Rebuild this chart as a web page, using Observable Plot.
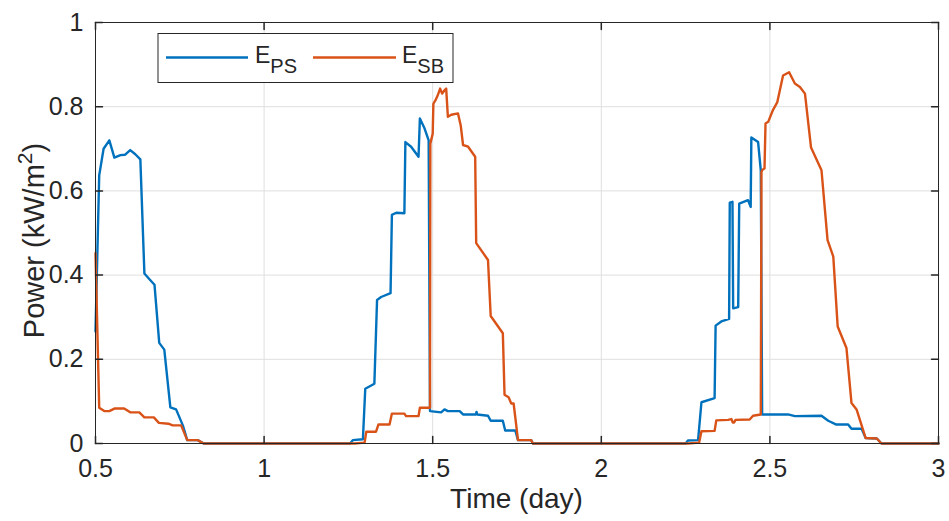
<!DOCTYPE html>
<html>
<head>
<meta charset="utf-8">
<script src="https://cdn.jsdelivr.net/npm/d3@7"></script>
<script src="https://cdn.jsdelivr.net/npm/@observablehq/plot@0.6"></script>
<style>
  html, body { margin: 0; padding: 0; background: #fff; }
  #chart { width: 949px; height: 521px; overflow: hidden; }
</style>
</head>
<body>
<div id="chart"></div>
<script>
// ---- data ----
const xTicks = [0.5, 1, 1.5, 2, 2.5, 3];
const yTicks = [0, 0.2, 0.4, 0.6, 0.8, 1];
const seriesNames = ["E_PS", "E_SB"];

const psTime = [0.5,0.511,0.524,0.541,0.556,0.574,0.588,0.603,0.618,0.633,0.645,0.66,0.675,0.689,0.704,0.722,0.739,0.759,0.772,0.803,0.821,
  1.255,1.263,1.293,1.30,1.327,1.335,1.347,1.375,1.379,1.392,1.416,1.419,1.436,1.458,1.462,1.476,1.488,1.492,1.525,1.535,1.545,1.58,1.59,1.628,1.630,1.632,1.664,1.672,1.708,1.715,1.745,1.753,1.792,1.797,
  2.25,2.257,2.287,2.297,2.336,2.339,2.356,2.379,2.381,2.389,2.391,2.406,2.409,2.435,2.443,2.445,2.465,2.473,2.477,2.554,2.574,2.653,2.673,2.697,2.732,2.742,2.772,2.784,2.817,2.831,3];
const psPower = [0.266,0.637,0.70,0.72,0.679,0.685,0.686,0.697,0.687,0.675,0.404,0.39,0.377,0.239,0.223,0.086,0.081,0.043,0.008,0.008,0,
  0,0.008,0.01,0.13,0.142,0.341,0.348,0.357,0.543,0.548,0.547,0.716,0.705,0.681,0.772,0.748,0.72,0.077,0.074,0.081,0.077,0.077,0.069,0.069,0.075,0.069,0.066,0.054,0.054,0.031,0.031,0.008,0.008,0,
  0,0.007,0.008,0.098,0.108,0.28,0.29,0.296,0.572,0.574,0.321,0.324,0.570,0.578,0.562,0.727,0.716,0.649,0.069,0.069,0.065,0.066,0.054,0.045,0.045,0.035,0.035,0.013,0.012,0,0];

const sbTime = [0.5,0.511,0.526,0.541,0.556,0.585,0.603,0.63,0.645,0.673,0.688,0.716,0.729,0.754,0.772,0.803,0.821,
  1.268,1.298,1.303,1.332,1.339,1.372,1.379,1.416,1.421,1.458,1.462,1.492,1.493,1.500,1.502,1.508,1.515,1.522,1.528,1.535,1.540,1.545,1.555,1.575,1.583,1.59,1.605,1.626,1.629,1.664,1.672,1.708,1.713,1.725,1.733,1.74,1.753,1.792,1.797,
  2.257,2.29,2.297,2.336,2.341,2.376,2.386,2.39,2.394,2.398,2.44,2.45,2.473,2.475,2.478,2.484,2.487,2.495,2.509,2.522,2.539,2.557,2.574,2.589,2.604,2.622,2.653,2.671,2.688,2.701,2.727,2.742,2.757,2.784,2.817,2.831,3];
const sbPower = [0.452,0.085,0.077,0.077,0.083,0.083,0.074,0.074,0.062,0.062,0.049,0.047,0.043,0.043,0.008,0.008,0,
  0,0.002,0.028,0.028,0.045,0.045,0.071,0.071,0.065,0.065,0.085,0.085,0.712,0.736,0.807,0.815,0.827,0.843,0.831,0.839,0.843,0.776,0.781,0.784,0.756,0.709,0.705,0.681,0.476,0.436,0.303,0.262,0.116,0.11,0.095,0.095,0.008,0.008,0,
  0,0.002,0.029,0.03,0.055,0.056,0.058,0.05,0.05,0.056,0.057,0.066,0.069,0.645,0.65,0.653,0.76,0.764,0.792,0.811,0.874,0.882,0.855,0.847,0.831,0.703,0.649,0.483,0.444,0.278,0.227,0.096,0.081,0.013,0.012,0,0];

(function () {
// ---- build table ----
const ps = psTime.map((t, i) => ({time: t, power: psPower[i], series: seriesNames[0]}));
const sb = sbTime.map((t, i) => ({time: t, power: sbPower[i], series: seriesNames[1]}));

const BLUE = "#0072BD", ORANGE = "#D95319", AX = "#262626", GRID = "#dfdfdf";
const FONT = "'Liberation Sans', Arial, Helvetica, sans-serif";
const tickShape = { draw(ctx, l) { ctx.moveTo(0, 0); ctx.lineTo(0, -l); } };
const fmt = d => String(d);
const LW = 2.4;

const plot = Plot.plot({
  width: 949,
  height: 521,
  marginLeft: 95,
  marginRight: 11,
  marginTop: 22,
  marginBottom: 78,
  style: {fontFamily: FONT, color: AX, background: "#fff", overflow: "visible"},
  x: {domain: [0.5, 3]},
  y: {domain: [0, 1]},
  marks: [
    Plot.gridX(xTicks, {stroke: GRID, strokeOpacity: 1}),
    Plot.gridY(yTicks, {stroke: GRID, strokeOpacity: 1}),
    Plot.axisX(xTicks, {tickSize: 0, tickPadding: 16, fontSize: 25, tickFormat: fmt, label: null, fill: AX}),
    Plot.axisY(yTicks, {tickSize: 0, tickPadding: 12, fontSize: 25, tickFormat: fmt, label: null, fill: AX}),
    Plot.line(ps, {x: "time", y: "power", stroke: BLUE, strokeWidth: LW}),
    Plot.line(sb, {x: "time", y: "power", stroke: ORANGE, strokeWidth: LW}),
    Plot.vector(xTicks, {x: d => d, y: 0, length: 7, rotate: 0, anchor: "start", shape: tickShape, stroke: AX}),
    Plot.vector(xTicks, {x: d => d, y: 1, length: 7, rotate: 180, anchor: "start", shape: tickShape, stroke: AX}),
    Plot.vector(yTicks, {x: 0.5, y: d => d, length: 7, rotate: 90, anchor: "start", shape: tickShape, stroke: AX}),
    Plot.vector(yTicks, {x: 3, y: d => d, length: 7, rotate: -90, anchor: "start", shape: tickShape, stroke: AX}),
    Plot.frame({stroke: AX, strokeWidth: 1})
  ]
});

document.getElementById("chart").appendChild(plot);

// ---- labels and legend with sub/superscripts ----
const svg = d3.select(plot);
const xs = plot.scale("x"), ys = plot.scale("y");
const pLeft = xs.apply(0.5), pRight = xs.apply(3), pTop = ys.apply(1), pBottom = ys.apply(0);

svg.append("text")
  .attr("x", (pLeft + pRight) / 2).attr("y", pBottom + 65)
  .attr("text-anchor", "middle").attr("font-size", 28).attr("fill", AX)
  .attr("font-family", FONT)
  .text("Time (day)");

const yl = svg.append("text")
  .attr("transform", `translate(44,${(pTop + pBottom) / 2 + 8}) rotate(-90)`)
  .attr("text-anchor", "middle").attr("font-size", 29).attr("fill", AX)
  .attr("font-family", FONT);
yl.append("tspan").text("Power (kW/m");
yl.append("tspan").attr("font-size", 21).attr("dy", -12).text("2");
yl.append("tspan").attr("dy", 12).text(")");

const lg = svg.append("g").attr("font-family", FONT).attr("fill", AX).attr("text-anchor", "start");
lg.append("rect").attr("x", 158).attr("y", 33.5).attr("width", 295).attr("height", 49)
  .attr("fill", "#fff").attr("stroke", AX).attr("stroke-width", 1);
const items = [
  {name: seriesNames[0], color: BLUE, x0: 166, x1: 248, tx: 255},
  {name: seriesNames[1], color: ORANGE, x0: 313, x1: 396, tx: 402}
];
for (const it of items) {
  lg.append("line").attr("x1", it.x0).attr("x2", it.x1).attr("y1", 57.5).attr("y2", 57.5)
    .attr("stroke", it.color).attr("stroke-width", LW);
  const [base, sub] = it.name.split("_");
  const t = lg.append("text").attr("x", it.tx).attr("y", 62.5).attr("font-size", 23).attr("text-anchor", "start");
  t.append("tspan").text(base);
  t.append("tspan").attr("font-size", 20).attr("dy", 10).text(sub);
}
})();
</script>
</body>
</html>
